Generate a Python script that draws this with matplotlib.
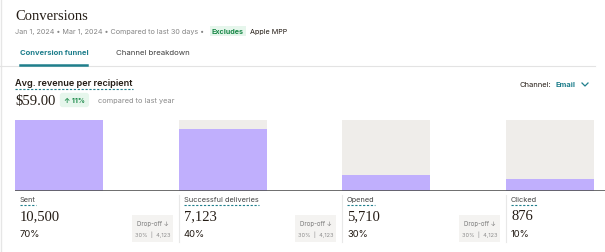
import matplotlib.pyplot as plt
from matplotlib.lines import Line2D

# funnel data
stages = ["Sent", "Successful deliveries", "Opened", "Clicked"]
counts = ["10,500", "7,123", "5,710", "876"]
rates = ["70%", "40%", "30%", "10%"]
fill_share = [1.0, 0.87, 0.23, 0.17]
drop_pct = ["30%", "30%", "30%"]
drop_n = ["4,123", "4,123", "4,123"]

W, H = 605, 253
TEAL = "#1f7f8c"
PURPLE = "#c0affd"
TRACK = "#efedea"
DARK = "#241c15"
SANS = ["Inter", "DejaVu Sans"]
SERIF = ["Liberation Serif", "DejaVu Serif"]

fig = plt.figure(figsize=(W / 100, H / 100), dpi=100)
fig.patch.set_facecolor("white")


def txt(x, y, s, **kw):
    kw.setdefault("va", "center")
    kw.setdefault("family", SANS)
    return fig.text(x / W, 1 - y / H, s, **kw)


def hline(x0, x1, y, **kw):
    fig.add_artist(Line2D([x0 / W, x1 / W], [1 - y / H, 1 - y / H],
                          transform=fig.transFigure, **kw))


def vline(x, y0, y1, **kw):
    fig.add_artist(Line2D([x / W, x / W], [1 - y0 / H, 1 - y1 / H],
                          transform=fig.transFigure, **kw))


def underline(t, y):
    # dashed teal underline as wide as the text
    fig.canvas.draw()
    bb = t.get_window_extent()
    hline(bb.x0, bb.x1, y, color=TEAL, lw=0.8, ls=(0, (2, 1.5)))


# page border + header
vline(1, 0, H, color="#e6e6e6", lw=1)
txt(15, 17, "Conversions", family=SERIF, fontsize=10.5, color=DARK)
txt(15, 32, "Jan 1, 2024 • Mar 1, 2024 • Compared to last 30 days •",
    fontsize=5.2, color="#858585")
txt(212, 32, "Excludes", fontsize=5.2, color="#1c8a4a", weight="bold",
    bbox=dict(boxstyle="square,pad=0.3", fc="#e6f6ec", ec="none"))
txt(250, 32, "Apple MPP", fontsize=5.2, color=DARK)

txt(20, 53, "Conversion funnel", fontsize=5.5, color=TEAL, weight="bold")
txt(116, 53, "Channel breakdown", fontsize=5.6, color="#3d3d3d")
hline(0, 595, 66.5, color="#e3e3e3", lw=0.8)
hline(20, 87, 66, color=TEAL, lw=1.8)

# KPI
t = txt(15, 83, "Avg. revenue per recipient", fontsize=6.6, color=DARK, weight="semibold")
underline(t, 90)
txt(15, 101, "$59.00", family=SERIF, fontsize=10.5, color=DARK)
txt(64, 101, "↑ 11%", fontsize=5, color="#1c8a4a", weight="bold",
    bbox=dict(boxstyle="round,pad=0.6,rounding_size=0.4", fc="#e6f6ec", ec="none"))
txt(98, 101, "compared to last year", fontsize=5.3, color="#8a8a8a")

txt(551, 85, "Channel:", fontsize=5.4, color=DARK, ha="right")
txt(555, 85, "Email", fontsize=5.4, color=TEAL, weight="bold")
fig.add_artist(Line2D([582 / W, 585 / W, 588 / W], [1 - 84 / H, 1 - 87 / H, 1 - 84 / H],
                      transform=fig.transFigure, color=TEAL, lw=0.9))

# bars
ax = fig.add_axes([15 / W, 1 - 192 / H, 590 / W, 71 / H])
x = list(range(len(stages)))
ax.bar(x, [1.0] * len(x), width=0.538, color=TRACK, align="center")
ax.bar(x, fill_share, width=0.538, color=PURPLE, align="center")
ax.set_xlim(-0.272, 3.337)
ax.set_ylim(0, 1)
ax.axhline(0, color="#555555", lw=1.2)
ax.axis("off")

col_left = [15, 179, 342, 506]
for i, s in enumerate(stages):
    x0 = col_left[i] + 5
    t = txt(x0, 200, s, fontsize=5.3, color="#444444")
    underline(t, 206)
    txt(x0, 217, counts[i], family=SERIF, fontsize=10.5, color=DARK)
    txt(x0, 235, rates[i], fontsize=6.8, color=DARK)
    if i > 0:
        vline(col_left[i] - 0.5, 196, 243, color="#e8e8e8", lw=0.8)
    if i < len(drop_pct):
        bx = col_left[i + 1] - 47
        fig.add_artist(plt.Rectangle((bx / W, 1 - 243 / H), 41 / W, 27 / H,
                                     transform=fig.transFigure, fc="#f4f3f1", ec="none"))
        txt(bx + 20.5, 224, "Drop-off ↓", fontsize=4.4, color="#7a7a7a", ha="center")
        txt(bx + 20.5, 235, drop_pct[i] + "  |  " + drop_n[i], fontsize=4.0,
            color="#8a8a8a", ha="center")

fig.savefig("out.png", dpi=100)
